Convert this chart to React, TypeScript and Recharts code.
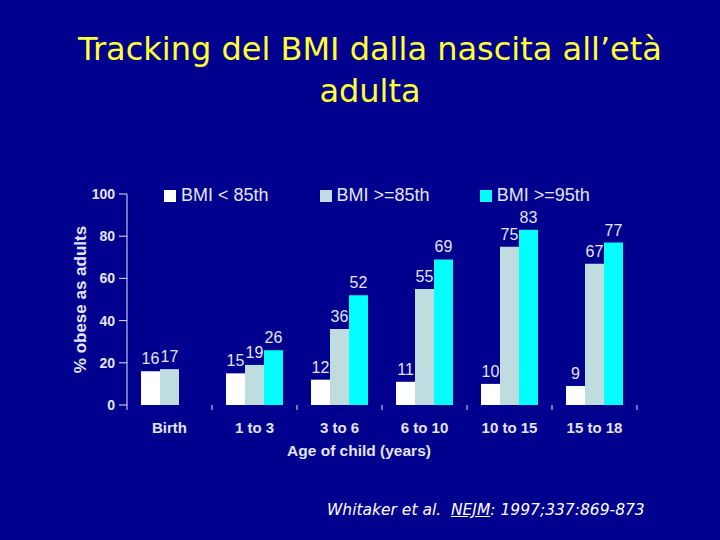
import React from 'react';
import { BarChart, Bar, XAxis, YAxis, Legend, LabelList } from 'recharts';

const categories = ['Birth', '1 to 3', '3 to 6', '6 to 10', '10 to 15', '15 to 18'];
const below85 = [16, 15, 12, 11, 10, 9];
const above85 = [17, 19, 36, 55, 75, 67];
const above95: (number | null)[] = [null, 26, 52, 69, 83, 77];
const yTicks = [0, 20, 40, 60, 80, 100];
const seriesNames = ['BMI < 85th', 'BMI >=85th', 'BMI >=95th'];
const seriesColors = ['#FFFFFF', '#BFDDE1', '#00FFFF'];

const data = categories.map((c, i) => ({
  cat: c,
  a: below85[i],
  b: above85[i],
  c: above95[i],
}));

const BG = '#00008E';
const TXT = '#E4E4F2';
const SANS = '"Liberation Sans", Arial, sans-serif';
const COMIC = '"Comic Sans MS", "DejaVu Sans", sans-serif';

const W = 720;
const H = 540;
const M = { top: 194, right: 83, bottom: 83, left: 66 };
const Y_W = 61;
const HALF = (W - M.left - Y_W - M.right) / categories.length / 2;

const XTick = (props: any) => {
  const { x, y, payload, index } = props;
  return (
    <g>
      <line x1={x + HALF} x2={x + HALF} y1={y} y2={y + 5} stroke={TXT} strokeWidth={1} />
      {index === 0 && <line x1={x - HALF} x2={x - HALF} y1={y} y2={y + 5} stroke={TXT} strokeWidth={1} />}
      <text x={x} y={y + 28} textAnchor="middle" fill={TXT} fontFamily={SANS} fontWeight="bold" fontSize={15}>
        {payload.value}
      </text>
    </g>
  );
};

const LegendContent = (props: any) => {
  const { payload } = props;
  return (
    <div style={{ display: 'flex', fontFamily: SANS, fontSize: 18, color: TXT, whiteSpace: 'nowrap' }}>
      {(payload || []).map((p: any, i: number) => (
        <div key={i} style={{ display: 'flex', alignItems: 'center', marginRight: i === 0 ? 51 : 50 }}>
          <span style={{ display: 'inline-block', width: 12, height: 12, background: p.color, marginRight: 5 }} />
          <span>{p.value}</span>
        </div>
      ))}
    </div>
  );
};

export default function App() {
  return (
    <div style={{ position: 'fixed', top: 0, left: 0, width: W, height: H, background: BG, overflow: 'hidden' }}>
      <div
        style={{
          position: 'absolute',
          top: 28,
          left: 0,
          width: W,
          textAlign: 'center',
          fontFamily: COMIC,
          fontSize: 32,
          lineHeight: '42px',
          color: '#FFFF33',
          paddingLeft: 20,
          boxSizing: 'border-box',
        }}
      >
        <div>Tracking del BMI dalla nascita all’età</div>
        <div>adulta</div>
      </div>
      <BarChart
        width={W}
        height={H}
        data={data}
        margin={M}
        barGap={0}
        barSize={19}
        style={{ position: 'absolute', top: 0, left: 0 }}
      >
        <YAxis
          type="number"
          domain={[0, 100]}
          ticks={yTicks}
          width={Y_W}
          axisLine={{ stroke: TXT }}
          tickLine={{ stroke: TXT }}
          tickSize={8}
          tickMargin={4}
          tick={{ fill: TXT, fontFamily: SANS, fontWeight: 'bold', fontSize: 14 }}
          label={{
            value: '% obese as adults',
            angle: -90,
            position: 'insideLeft',
            offset: 14,
            fill: TXT,
            fontFamily: SANS,
            fontWeight: 'bold',
            fontSize: 17,
            style: { textAnchor: 'middle' },
          }}
        />
        <XAxis
          dataKey="cat"
          type="category"
          height={52}
          axisLine={false}
          tickLine={false}
          tickSize={0}
          tickMargin={0}
          interval={0}
          tick={<XTick />}
          label={{
            value: 'Age of child (years)',
            position: 'insideBottom',
            offset: 0,
            dx: -23,
            dy: -1,
            fill: TXT,
            fontFamily: SANS,
            fontWeight: 'bold',
            fontSize: 15.5,
          }}
        />
        <Legend
          layout="horizontal"
          verticalAlign="middle"
          align="center"
          content={<LegendContent />}
          wrapperStyle={{ top: 185, left: 164, width: 'auto', height: 'auto' }}
        />
        {['a', 'b', 'c'].map((k, i) => (
          <Bar key={k} dataKey={k} name={seriesNames[i]} fill={seriesColors[i]} isAnimationActive={false}>
            <LabelList dataKey={k} position="top" offset={7} fill={TXT} fontFamily={SANS} fontSize={16} />
          </Bar>
        ))}
      </BarChart>
      <div
        style={{
          position: 'absolute',
          top: 501,
          left: 327,
          fontFamily: COMIC,
          fontStyle: 'italic',
          fontSize: 15.5,
          color: '#FFFFFF',
          whiteSpace: 'nowrap',
        }}
      >
        Whitaker et al.&nbsp; <span style={{ textDecoration: 'underline' }}>NEJM</span>: 1997;337:869-873
      </div>
    </div>
  );
}
